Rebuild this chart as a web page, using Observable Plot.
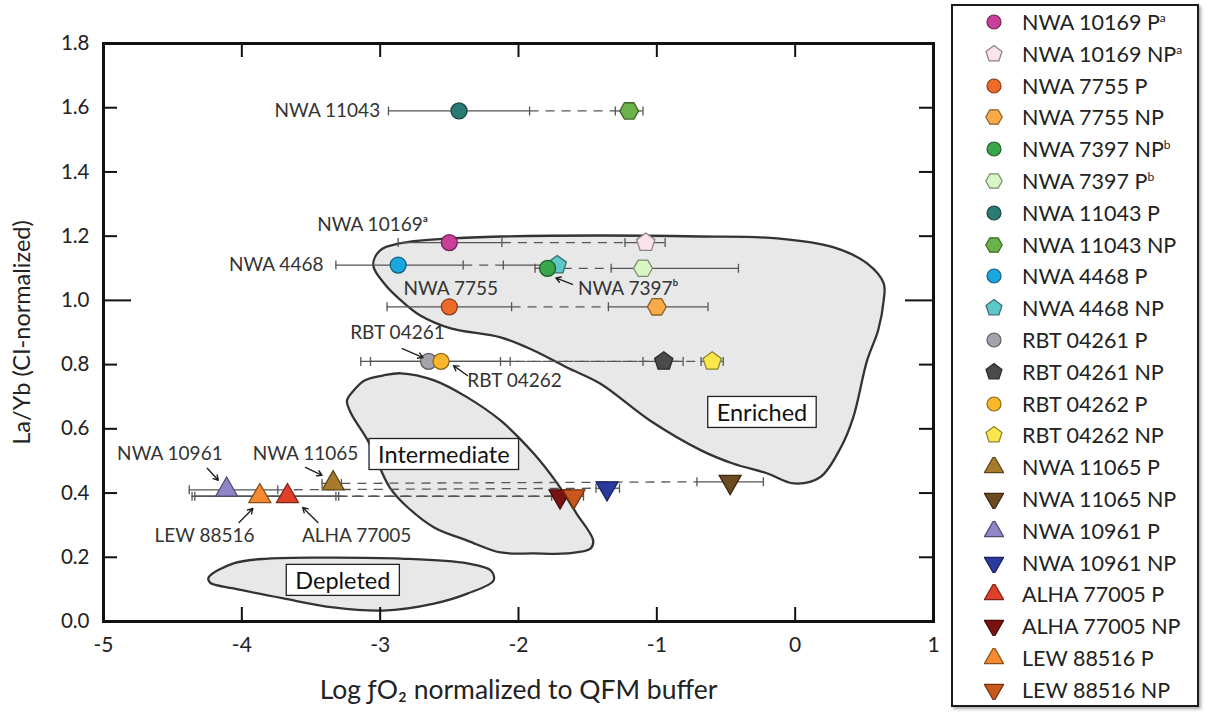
<!DOCTYPE html>
<html><head><meta charset="utf-8">
<script src="https://cdn.jsdelivr.net/npm/d3@7"></script>
<script src="https://cdn.jsdelivr.net/npm/@observablehq/plot@0.6"></script>
<style>
body{margin:0;background:#fff;font-family:Lato,"Open Sans",sans-serif;}
#wrap{position:relative;width:1207px;height:713px;overflow:hidden;background:#fff;}
#chart{position:absolute;left:0;top:0;}
#legend{position:absolute;left:951px;top:4px;width:248px;height:703px;border:2px solid #1a1a1a;box-sizing:border-box;box-shadow:2px 2px 3px rgba(0,0,0,0.35);background:#fff;}
.row{position:absolute;left:0;height:32px;display:flex;align-items:center;font-size:21.5px;color:#222;white-space:nowrap;}
.row svg{margin-left:31px;margin-right:18px;flex:none;}
.row sup{font-size:12px;vertical-align:8px;line-height:0;}
</style></head><body>
<div id="wrap"><div id="chart"></div><div id="legend"></div></div>
<script>
// ---------------- data ----------------
const samples = ["NWA 10169","NWA 7755","NWA 11043","NWA 4468","NWA 7397","RBT 04261","RBT 04262","NWA 11065","NWA 10961","ALHA 77005","LEW 88516"];
const pX   = [-2.50,-2.50,-2.43,-2.87,-1.10,-2.65,-2.56,-3.34,-4.11,-3.67,-3.87];
const pY   = [1.18, 0.98, 1.59, 1.11, 1.10, 0.81, 0.81, 0.43, 0.41, 0.39, 0.39];
const pLo  = [-2.87,-2.95,-2.94,-3.32,-1.33,-3.14,-3.07,-3.42,-4.38,-4.34,-4.36];
const pHi  = [-2.12,-2.05,-1.92,-2.40,-0.41,-2.13,-2.06,-3.28,-3.74,-3.30,-3.32];
const npX  = [-1.08,-1.00,-1.20,-1.72,-1.79,-0.95,-0.60,-0.47,-1.36,-1.70,-1.60];
const npY  = [1.18, 0.98, 1.59, 1.11, 1.10, 0.81, 0.81, 0.435,0.415,0.39, 0.39];
const npLo = [-1.23,-1.35,-1.30,-2.11,-1.88,-1.10,-0.68,-0.71,-1.44,-1.76,-1.66];
const npHi = [-0.94,-0.63,-1.10,-1.68,-1.68,-0.81,-0.52,-0.23,-1.27,-1.64,-1.53];
const pFill  = ["#c8409a","#ee6a2a","#2a7b74","#1aa6df","#d8f5c4","#a3a3ab","#f8b62a","#a87b2c","#8e86c6","#e0402a","#f58b2e"];
const npFill = ["#fbe3ec","#f7aa4a","#6cb24a","#5fc7c9","#3aa64a","#4a4a4c","#fbe74c","#6b4a22","#2b3a9e","#7a1212","#c9581c"];
const pShape  = ["circle","circle","circle","circle","hexagon","circle","circle","triUp","triUp","triUp","triUp"];
const npShape = ["pentagon","hexagon","hexagon","pentagon","circle","pentagon","pentagon","triDown","triDown","triDown","triDown"];

const legendOrder = [["NWA 10169","P","a"],["NWA 10169","NP","a"],["NWA 7755","P",""],["NWA 7755","NP",""],["NWA 7397","NP","b"],["NWA 7397","P","b"],["NWA 11043","P",""],["NWA 11043","NP",""],["NWA 4468","P",""],["NWA 4468","NP",""],["RBT 04261","P",""],["RBT 04261","NP",""],["RBT 04262","P",""],["RBT 04262","NP",""],["NWA 11065","P",""],["NWA 11065","NP",""],["NWA 10961","P",""],["NWA 10961","NP",""],["ALHA 77005","P",""],["ALHA 77005","NP",""],["LEW 88516","P",""],["LEW 88516","NP",""]];

const enrichedX = [-3.05,-3.00,-2.85,-2.49,-2.13,-1.41,-0.69,-0.13,0.28,0.52,0.64,0.64,0.60,0.52,0.42,0.33,0.18,-0.01,-0.20,-0.45,-0.68,-1.05,-1.41,-1.65,-1.89,-2.13,-2.49,-2.71,-2.85,-2.96];
const enrichedY = [1.109,1.156,1.178,1.193,1.199,1.202,1.199,1.193,1.165,1.115,1.053,1.00,0.907,0.813,0.636,0.542,0.449,0.43,0.461,0.492,0.533,0.626,0.741,0.791,0.844,0.885,0.913,0.953,1.00,1.047];
const intermediateX = [-2.98,-2.85,-2.61,-2.37,-2.13,-1.89,-1.72,-1.58,-1.46,-1.48,-1.65,-1.89,-2.13,-2.37,-2.61,-2.80,-2.93,-3.09,-3.21,-3.24,-3.19,-3.11];
const intermediateY = [0.766,0.773,0.751,0.698,0.626,0.523,0.430,0.336,0.252,0.227,0.212,0.212,0.215,0.252,0.293,0.355,0.417,0.564,0.648,0.688,0.720,0.751];
const depletedX = [-4.24,-4.06,-3.81,-3.34,-2.85,-2.37,-2.20,-2.18,-2.37,-2.61,-2.98,-3.34,-3.70,-4.06,-4.23];
const depletedY = [0.137,0.181,0.196,0.199,0.196,0.181,0.159,0.128,0.087,0.056,0.034,0.044,0.072,0.103,0.121];

const regionNames  = ["Enriched","Intermediate","Depleted"];
const regionLabelX = [-0.24,-2.54,-3.27];
const regionLabelY = [0.648,0.517,0.125];

const labelText   = ["NWA 11043","NWA 10169ᵃ","NWA 4468","NWA 7755","NWA 7397ᵇ","RBT 04261","RBT 04262","NWA 10961","NWA 11065","LEW 88516","ALHA 77005"];
const labelX      = [-3.00,-3.055,-3.41,-2.49,-1.57,-2.875,-2.37,-4.52,-3.54,-4.27,-3.17];
const labelY      = [1.59,1.234,1.11,1.037,1.037,0.90,0.75,0.523,0.523,0.268,0.268];
const labelAnchor = ["end","middle","end","middle","start","middle","start","middle","middle","middle","middle"];
const arrowX1 = [-1.61,-2.84,-2.37,-4.25,-3.54,-4.02,-3.45];
const arrowY1 = [1.05,0.85,0.766,0.477,0.48,0.308,0.308];
const arrowX2 = [-1.73,-2.69,-2.47,-4.17,-3.42,-3.92,-3.56];
const arrowY2 = [1.07,0.822,0.797,0.44,0.455,0.352,0.355];

const xTicks = [-5,-4,-3,-2,-1,0,1];
const yTicks = [0,0.2,0.4,0.6,0.8,1.0,1.2,1.4,1.6,1.8];
const xTitle = "Log ƒO₂ normalized to QFM buffer";
const yTitle = "La/Yb (CI-normalized)";

// ---------------- symbols ----------------
function poly(ctx, pts){pts.forEach(([a,b],i)=> i?ctx.lineTo(a,b):ctx.moveTo(a,b)); ctx.closePath();}
const SYM = {
  circle: d3.symbolCircle,
  pentagon: {draw(ctx,size){const r=Math.sqrt(size/Math.PI)*1.2; poly(ctx, d3.range(5).map(k=>{const a=-Math.PI/2+k*2*Math.PI/5; return [r*Math.cos(a), r*Math.sin(a)];}));}},
  hexagon: {draw(ctx,size){const r=Math.sqrt(size/Math.PI)*1.18; poly(ctx, d3.range(6).map(k=>{const a=k*Math.PI/3; return [r*Math.cos(a), r*Math.sin(a)];}));}},
  triUp: {draw(ctx,size){const r=Math.sqrt(size/Math.PI); const w=2.75*r, h=2.4*r; poly(ctx,[[0,-2*h/3],[w/2,h/3],[-w/2,h/3]]);}},
  triDown: {draw(ctx,size){const r=Math.sqrt(size/Math.PI); const w=2.75*r, h=2.4*r; poly(ctx,[[0,2*h/3],[w/2,-h/3],[-w/2,-h/3]]);}},
  vline: {draw(ctx,size){const h=Math.sqrt(size/Math.PI); ctx.moveTo(0,-h); ctx.lineTo(0,h);}}
};
const outline = c => d3.color(c).darker(1.6).formatHex();

// ---------------- tables ----------------
const points = [], bars = [], caps = [], conns = [];
samples.forEach((s,i)=>{
  points.push({s, t:"P",  x:pX[i],  y:pY[i],  fill:pFill[i],  shape:pShape[i]});
  points.push({s, t:"NP", x:npX[i], y:npY[i], fill:npFill[i], shape:npShape[i]});
  bars.push({x1:pLo[i], x2:pHi[i], y:pY[i]}, {x1:npLo[i], x2:npHi[i], y:npY[i]});
  caps.push({x:pLo[i],y:pY[i]},{x:pHi[i],y:pY[i]},{x:npLo[i],y:npY[i]},{x:npHi[i],y:npY[i]});
  if (pX[i] < npX[i]) conns.push({x1:pHi[i], y1:pY[i], x2:npLo[i], y2:npY[i]});
  else conns.push({x1:npHi[i], y1:npY[i], x2:pLo[i], y2:pY[i]});
});
const regions = [];
enrichedX.forEach((x,i)=>regions.push({r:"Enriched", x, y:enrichedY[i]}));
intermediateX.forEach((x,i)=>regions.push({r:"Intermediate", x, y:intermediateY[i]}));
depletedX.forEach((x,i)=>regions.push({r:"Depleted", x, y:depletedY[i]}));
const regionLabels = regionNames.map((t,i)=>({t, x:regionLabelX[i], y:regionLabelY[i]}));
const labels = labelText.map((t,i)=>({t, x:labelX[i], y:labelY[i], a:labelAnchor[i]}));
const arrows = arrowX1.map((x1,i)=>({x1, y1:arrowY1[i], x2:arrowX2[i], y2:arrowY2[i]}));

const W = 945, H = 713, mL = 103, mR = 12, mT = 43, mB = 92;
const iw = W - mL - mR, ih = H - mT - mB;
const font = "Lato, 'Open Sans', sans-serif";

const dotMarks = ["pentagon","hexagon","triDown","triUp","circle"].map(sh =>
  Plot.dot(points.filter(d=>d.shape===sh), {x:"x", y:"y", r:8, symbol:SYM[sh], fill:"fill", stroke:d=>outline(d.fill), strokeWidth:1.3}));

const chart = Plot.plot({
  width: W, height: H, marginLeft: mL, marginRight: mR, marginTop: mT, marginBottom: mB,
  style: {fontFamily: font, background: "white", overflow: "visible"},
  x: {domain: [-5, 1]},
  y: {domain: [0, 1.8]},
  marks: [
    Plot.line(regions, {x:"x", y:"y", z:"r", curve:"catmull-rom-closed", fill:"#e8e8e8", stroke:"#333", strokeWidth:2.3}),
    Plot.text(regionLabels, {x:"x", y:"y", text:"t", fontSize:23.5, fill:"#111", className:"rlab"}),
    Plot.link(conns, {x1:"x1", y1:"y1", x2:"x2", y2:"y2", stroke:"#555", strokeWidth:1.3, strokeDasharray:"9,7"}),
    Plot.ruleY(bars, {y:"y", x1:"x1", x2:"x2", stroke:"#555", strokeWidth:1.3}),
    Plot.dot(caps, {x:"x", y:"y", r:4.5, symbol:SYM.vline, fill:"none", stroke:"#555", strokeWidth:1.3}),
    ...dotMarks,
    ...["end","middle","start"].map(a => Plot.text(labels.filter(d=>d.a===a), {x:"x", y:"y", text:"t", textAnchor:a, fontSize:19, fill:"#333"})),
    Plot.arrow(arrows, {x1:"x1", y1:"y1", x2:"x2", y2:"y2", stroke:"#222", strokeWidth:1.4, headLength:6}),
    // inward ticks
    Plot.ruleX(xTicks, {x:d=>d, insetTop: ih-14, stroke:"#111", strokeWidth:2}),
    Plot.ruleX(xTicks, {x:d=>d, insetBottom: ih-14, stroke:"#111", strokeWidth:2}),
    Plot.ruleY(yTicks.filter(d=>d!==1), {y:d=>d, insetRight: iw-14, stroke:"#111", strokeWidth:2}),
    Plot.ruleY(yTicks.filter(d=>d!==1), {y:d=>d, insetLeft: iw-14, stroke:"#111", strokeWidth:2}),
    Plot.ruleY([1.0], {y:d=>d, insetRight: iw-28, stroke:"#111", strokeWidth:2}),
    Plot.ruleY([1.0], {y:d=>d, insetLeft: iw-28, stroke:"#111", strokeWidth:2}),
    Plot.axisX({ticks:xTicks, tickSize:0, tickPadding:16, tickFormat:d=>String(d), fontSize:21, fill:"#222", label:null}),
    Plot.axisY({ticks:yTicks, tickSize:0, tickPadding:14, tickFormat:d3.format(".1f"), fontSize:20.5, fill:"#222", label:null}),
    Plot.text([xTitle], {frameAnchor:"bottom", textAnchor:"middle", lineAnchor:"middle", dy:69, text:d=>d, fontSize:26.5, fill:"#222"}),
    Plot.text([yTitle], {frameAnchor:"left", textAnchor:"middle", lineAnchor:"middle", rotate:-90, dx:-81, text:d=>d, fontSize:23.5, fill:"#222"}),
    Plot.frame({stroke:"#111", strokeWidth:3})
  ]
});
document.getElementById("chart").appendChild(chart);

// boxes behind region labels
chart.querySelectorAll(".rlab text").forEach(t=>{
  const b = t.getBBox();
  const rect = document.createElementNS("http://www.w3.org/2000/svg","rect");
  rect.setAttribute("x", b.x-9); rect.setAttribute("y", b.y-1.5);
  rect.setAttribute("width", b.width+18); rect.setAttribute("height", b.height+3);
  rect.setAttribute("fill","white"); rect.setAttribute("stroke","#222"); rect.setAttribute("stroke-width","1.3");
  const tr = t.getAttribute("transform"); if (tr) rect.setAttribute("transform", tr);
  t.parentNode.insertBefore(rect, t);
});

// ---------------- legend ----------------
const legend = document.getElementById("legend");
legendOrder.forEach(([s,t,sup],k)=>{
  const i = samples.indexOf(s);
  const fill = t==="P" ? pFill[i] : npFill[i];
  const shape = t==="P" ? pShape[i] : npShape[i];
  const row = document.createElement("div");
  row.className = "row";
  row.style.top = (k*31.8) + "px";
  const svg = d3.create("svg").attr("width",20).attr("height",20);
  svg.append("path").attr("transform","translate(10,10)")
    .attr("d", d3.symbol(SYM[shape], Math.PI*7*7)())
    .attr("fill", fill).attr("stroke", outline(fill)).attr("stroke-width",1.2);
  row.appendChild(svg.node());
  const span = document.createElement("span");
  span.innerHTML = `${s} ${t}${sup?`<sup>${sup}</sup>`:""}`;
  row.appendChild(span);
  legend.appendChild(row);
});
</script>
</body></html>
